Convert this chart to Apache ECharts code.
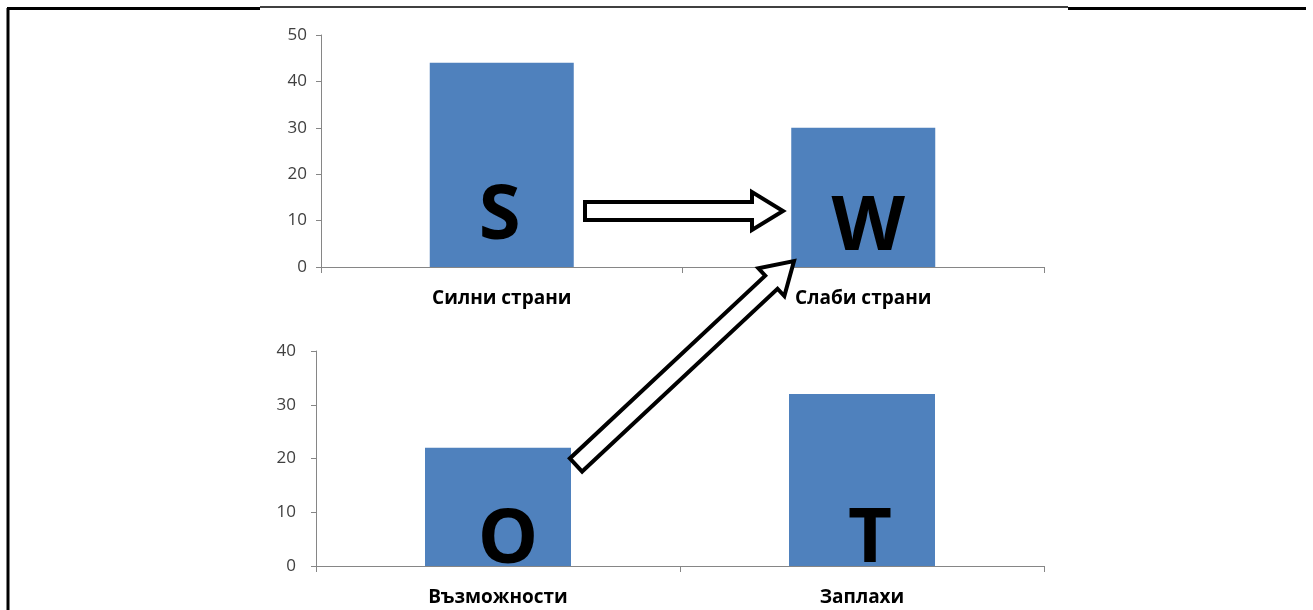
<!DOCTYPE html>
<html>
<head>
<meta charset="utf-8">
<script src="https://cdn.jsdelivr.net/npm/echarts@6/dist/echarts.min.js"></script>
<style>
  html, body { margin: 0; padding: 0; background: #fff; }
  #chart { width: 1313px; height: 610px; }
</style>
</head>
<body>
<div id="chart"></div>
<script>
// горна диаграма: вътрешни фактори
const topCategories = ['Силни страни', 'Слаби страни'];
const topValues = [44, 30];
const topLetters = ['S', 'W'];
const topTicks = { min: 0, max: 50, interval: 10 };

// долна диаграма: външни фактори
const bottomCategories = ['Възможности', 'Заплахи'];
const bottomValues = [22, 32];
const bottomLetters = ['O', 'T'];
const bottomTicks = { min: 0, max: 40, interval: 10 };

const barColor = '#4f81bd';
const axisColor = '#868686';
const font = '"Open Sans", "Noto Sans", sans-serif';

// блокова стрелка като многоъгълник
function arrowPoints(x1, y1, x2, y2, shaft, head, headLen) {
  const dx = x2 - x1, dy = y2 - y1;
  const len = Math.sqrt(dx * dx + dy * dy);
  const ux = dx / len, uy = dy / len;
  const nx = -uy, ny = ux;
  const bx = x2 - ux * headLen, by = y2 - uy * headLen;
  return [
    [x1 + nx * shaft, y1 + ny * shaft],
    [bx + nx * shaft, by + ny * shaft],
    [bx + nx * head, by + ny * head],
    [x2, y2],
    [bx - nx * head, by - ny * head],
    [bx - nx * shaft, by - ny * shaft],
    [x1 - nx * shaft, y1 - ny * shaft]
  ];
}

function letterData(values, letters, offsets) {
  return values.map((v, i) => ({
    value: v,
    label: {
      show: true,
      position: 'insideBottom',
      formatter: letters[i],
      offset: offsets[i],
      distance: 0,
      fontFamily: font,
      fontWeight: 'bold',
      fontSize: 76,
      color: '#000',
      lineHeight: 76
    }
  }));
}

function xAxisFor(gridIndex, cats) {
  return {
    type: 'category',
    gridIndex: gridIndex,
    data: cats,
    axisLine: { lineStyle: { color: axisColor, width: 1 } },
    axisTick: { show: true, length: 6, lineStyle: { color: axisColor } },
    axisLabel: { color: '#000', fontFamily: font, fontWeight: 'bold', fontSize: 19, margin: 22 }
  };
}

function yAxisFor(gridIndex, ticks, margin) {
  return {
    type: 'value',
    gridIndex: gridIndex,
    min: ticks.min,
    max: ticks.max,
    interval: ticks.interval,
    splitLine: { show: false },
    axisLine: { show: true, lineStyle: { color: axisColor, width: 1 } },
    axisTick: { show: true, length: 5, lineStyle: { color: axisColor } },
    axisLabel: { color: '#404040', fontFamily: font, fontSize: 17, margin: margin }
  };
}

const chart = echarts.init(document.getElementById('chart'));
const option = {
  backgroundColor: '#fff',
  animation: false,
  grid: [
    { left: 321, top: 35, width: 723, height: 232 },
    { left: 316, top: 351, width: 728, height: 215 }
  ],
  xAxis: [xAxisFor(0, topCategories), xAxisFor(1, bottomCategories)],
  yAxis: [yAxisFor(0, topTicks, 14), yAxisFor(1, bottomTicks, 20)],
  series: [
    {
      type: 'bar',
      xAxisIndex: 0,
      yAxisIndex: 0,
      barWidth: 144,
      itemStyle: { color: barColor },
      data: letterData(topValues, topLetters, [[-2, -12], [5, -1]])
    },
    {
      type: 'bar',
      xAxisIndex: 1,
      yAxisIndex: 1,
      barWidth: 146,
      itemStyle: { color: barColor },
      data: letterData(bottomValues, bottomLetters, [[10, 13], [8, 12]])
    }
  ],
  graphic: [
    // рамка
    { type: 'line', shape: { x1: 8, y1: 8, x2: 8, y2: 610 }, style: { stroke: '#000', lineWidth: 3 } },
    { type: 'line', shape: { x1: 7, y1: 8.5, x2: 260, y2: 8.5 }, style: { stroke: '#000', lineWidth: 3 } },
    { type: 'line', shape: { x1: 260, y1: 7, x2: 1068, y2: 7 }, style: { stroke: '#000', lineWidth: 1.5 } },
    { type: 'line', shape: { x1: 1068, y1: 8.5, x2: 1306, y2: 8.5 }, style: { stroke: '#000', lineWidth: 3 } },
    // стрелки
    {
      type: 'polygon', z: 100,
      shape: { points: arrowPoints(585, 211, 783, 211, 9, 19, 31) },
      style: { fill: '#fff', stroke: '#000', lineWidth: 4, lineJoin: 'miter' }
    },
    {
      type: 'polygon', z: 100,
      shape: { points: arrowPoints(576, 465, 794, 261, 9, 19, 31) },
      style: { fill: '#fff', stroke: '#000', lineWidth: 4, lineJoin: 'miter' }
    }
  ]
};
chart.setOption(option);
</script>
</body>
</html>
